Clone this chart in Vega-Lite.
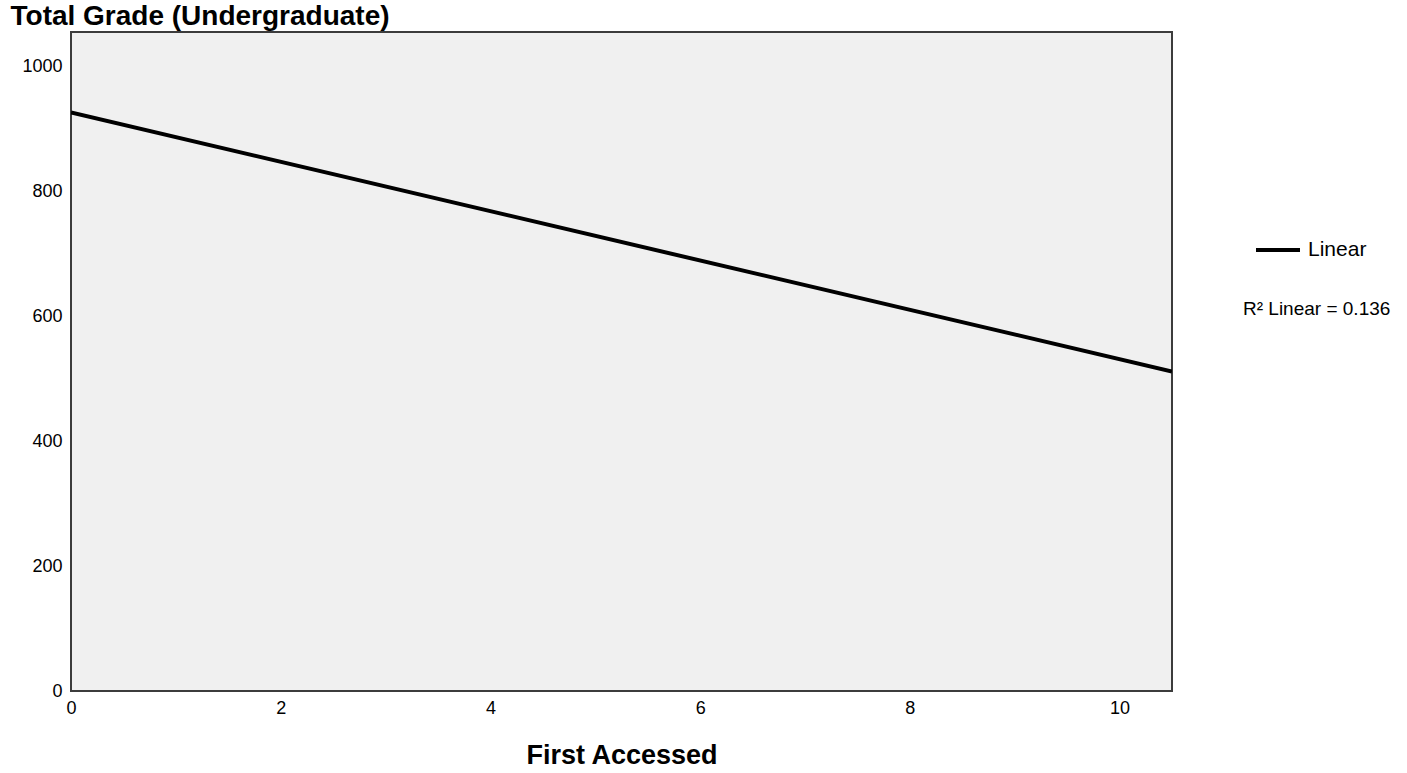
{
  "$schema": "https://vega.github.io/schema/vega-lite/v6.json",
  "width": 1101,
  "height": 659,
  "autosize": "none",
  "padding": {"left": 71, "top": 32, "right": 235, "bottom": 82},
  "background": "white",
  "config": {
    "font": "Liberation Sans",
    "view": {"fill": "#f0f0f0", "stroke": "#3c3c3c", "strokeWidth": 2}
  },
  "data": {
    "values": [
      {"first": 0, "grade": 927, "fit": "Linear"},
      {"first": 10.5, "grade": 512, "fit": "Linear"}
    ]
  },
  "mark": {"type": "line", "strokeWidth": 4, "clip": true},
  "encoding": {
    "x": {
      "field": "first",
      "type": "quantitative",
      "scale": {"domain": [0, 10.5], "nice": false, "zero": false},
      "axis": {
        "title": "First Accessed",
        "values": [0, 2, 4, 6, 8, 10],
        "format": "d",
        "grid": false,
        "ticks": false,
        "domain": false,
        "labelFlush": false,
        "labelFontSize": 18,
        "labelPadding": 8,
        "labelColor": "#000",
        "titleFontSize": 27,
        "titleFontWeight": "bold",
        "titleColor": "#000",
        "titlePadding": 25
      }
    },
    "y": {
      "field": "grade",
      "type": "quantitative",
      "scale": {"domain": [0, 1056], "nice": false, "zero": false},
      "axis": {
        "title": "Total Grade (Undergraduate)",
        "values": [0, 200, 400, 600, 800, 1000],
        "format": "d",
        "grid": false,
        "ticks": false,
        "domain": false,
        "labelFontSize": 18,
        "labelPadding": 9,
        "labelColor": "#000",
        "titleAngle": 0,
        "titleAlign": "left",
        "titleBaseline": "alphabetic",
        "titleX": -61,
        "titleY": -8,
        "titleFontSize": 28,
        "titleFontWeight": "bold",
        "titleColor": "#000"
      }
    },
    "color": {
      "field": "fit",
      "type": "nominal",
      "scale": {"range": ["black"]},
      "legend": {
        "title": "R² Linear = 0.136",
        "titleOrient": "bottom",
        "titleAnchor": "start",
        "titleFontSize": 19,
        "titleFontWeight": "normal",
        "titleColor": "#000",
        "titlePadding": 40,
        "orient": "none",
        "legendX": 1172,
        "legendY": 194,
        "symbolType": "stroke",
        "symbolStrokeWidth": 4,
        "symbolSize": 1936,
        "symbolOffset": 11,
        "labelOffset": 6,
        "labelFontSize": 21,
        "labelColor": "#000"
      }
    }
  }
}
